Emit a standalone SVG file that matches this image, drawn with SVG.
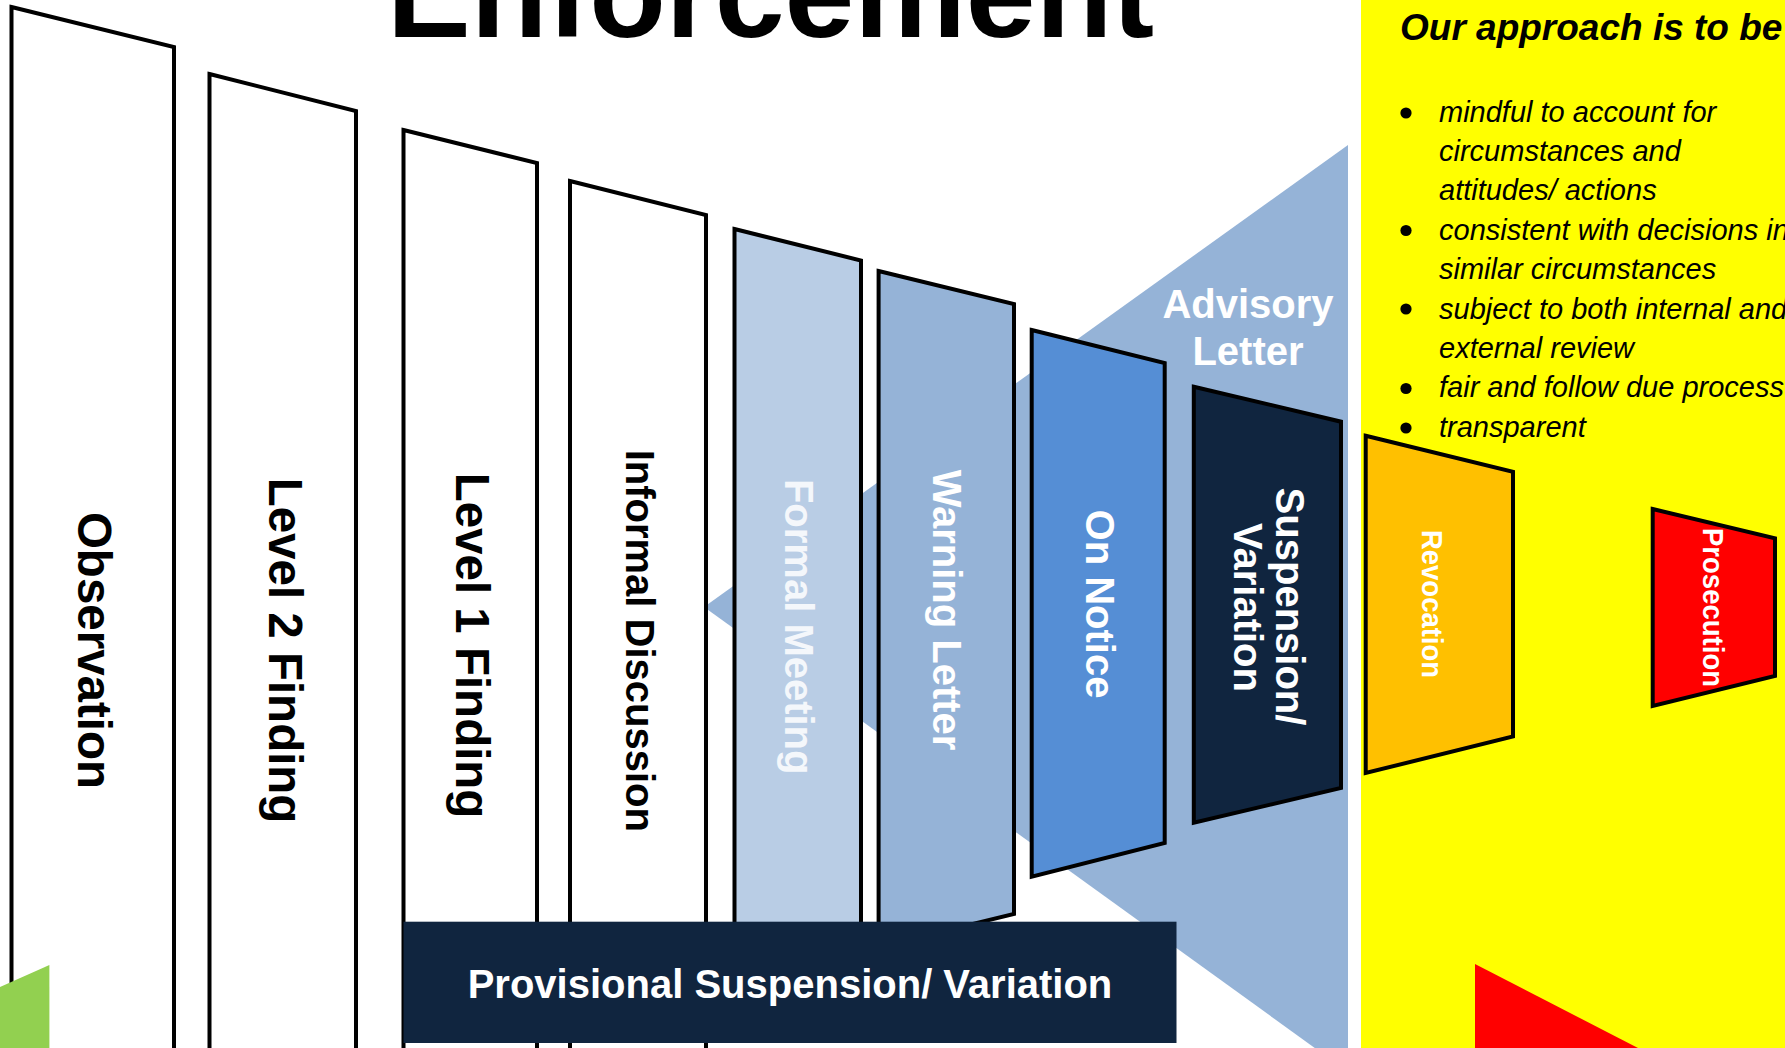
<svg xmlns="http://www.w3.org/2000/svg" width="1785" height="1048" viewBox="0 0 1785 1048">
<style>
.t{font-family:"Liberation Sans",Arial,sans-serif;}
.b{font-weight:bold;}
.blk{fill:#000;}
.wht{fill:#fff;}
.stage{stroke:#000;stroke-width:4;stroke-linejoin:miter;}
.bul{font-style:italic;font-size:29px;}
</style>
<rect x="0" y="0" width="1785" height="1048" fill="#fff"/>
<g id="panel">
<rect x="1361" y="0" width="424" height="1048" fill="#FFFF00"/>
</g>
<g id="advisory">
<polygon points="704,607 1348,145 1348,1072" fill="#95B3D7"/>
<text class="t b wht" font-size="40" text-anchor="middle" x="1248" y="318">Advisory</text>
<text class="t b wht" font-size="40" text-anchor="middle" x="1248" y="365">Letter</text>
</g>
<g id="title">
<text class="t b blk" font-size="125.5" x="387" y="36.5">Enforcement</text>
</g>
<g id="observation">
<polygon class="stage" points="11.5,7 174,47 174,1062 11.5,1062" fill="#fff"/>
<text class="t b blk" font-size="47.5" text-anchor="middle" transform="translate(94.5,650.5) rotate(90)" x="0" y="17">Observation</text>
</g>
<g id="level2">
<polygon class="stage" points="209.5,74 356,111 356,1062 209.5,1062" fill="#fff"/>
<text class="t b blk" font-size="47.5" text-anchor="middle" transform="translate(285.8,650.5) rotate(90)" x="0" y="17">Level 2 Finding</text>
</g>
<g id="level1">
<polygon class="stage" points="403.5,130 537,163 537,1062 403.5,1062" fill="#fff"/>
<text class="t b blk" font-size="47.5" text-anchor="middle" transform="translate(472.8,645.5) rotate(90)" x="0" y="17">Level 1 Finding</text>
</g>
<g id="informal">
<polygon class="stage" points="570,181 706,215 706,1062 570,1062" fill="#fff"/>
<text class="t b blk" font-size="40" text-anchor="middle" transform="translate(640.8,640.8) rotate(90)" x="0" y="14.3">Informal Discussion</text>
</g>
<g id="formal">
<polygon class="stage" points="734.5,229 861,260.5 861,960 734.5,990" fill="#B9CDE5"/>
<text class="t b" fill="#F4F7FB" font-size="40" text-anchor="middle" transform="translate(799.5,626.7) rotate(90)" x="0" y="14.3">Formal Meeting</text>
</g>
<g id="warning">
<polygon class="stage" points="878.6,271 1014,304 1014,914 878.6,947" fill="#95B3D7"/>
<text class="t b wht" font-size="40" text-anchor="middle" transform="translate(947.5,610) rotate(90)" x="0" y="14.3">Warning Letter</text>
</g>
<g id="onnotice">
<polygon class="stage" points="1031.7,330 1164.7,363 1164.7,843 1031.7,876.7" fill="#558ED5"/>
<text class="t b wht" font-size="40" text-anchor="middle" transform="translate(1100,604) rotate(90)" x="0" y="14.3">On Notice</text>
</g>
<g id="suspension">
<polygon class="stage" points="1193.8,386.7 1341,421.7 1341,788 1193.8,822.7" fill="#10253F"/>
<text class="t b wht" font-size="40" text-anchor="middle" transform="translate(1290.8,606.5) rotate(90)" x="0" y="14.3">Suspension/</text>
<text class="t b wht" font-size="40" text-anchor="middle" transform="translate(1248,607.5) rotate(90)" x="0" y="14.3">Variation</text>
</g>
<g id="revocation">
<polygon class="stage" points="1365.7,435.7 1513,471.7 1513,736.5 1365.7,773" fill="#FFC000"/>
<text class="t b wht" font-size="30" text-anchor="middle" textLength="148" lengthAdjust="spacingAndGlyphs" transform="translate(1432.5,604) rotate(90)" x="0" y="10.7">Revocation</text>
</g>
<g id="prosecution">
<polygon class="stage" points="1652.7,509 1775,538.3 1775,676 1652.7,706" fill="#FF0000"/>
<text class="t b wht" font-size="30" text-anchor="middle" textLength="159" lengthAdjust="spacingAndGlyphs" transform="translate(1714,607.5) rotate(90)" x="0" y="10.7">Prosecution</text>
</g>
<g id="provisional">
<rect x="403.5" y="921.7" width="773" height="121.3" fill="#10253F"/>
<text class="t b wht" font-size="40" text-anchor="middle" x="790" y="998">Provisional Suspension/ Variation</text>
</g>
<g id="green">
<polygon points="0,987 49.4,965 49.4,1048 0,1048" fill="#92D050"/>
</g>
<g id="redtriangle">
<polygon points="1475,964 1638,1048 1475,1048" fill="#FF0000"/>
</g>
<g id="approach">
<text class="t b blk" font-size="37" font-style="italic" x="1400" y="39.5">Our approach is to be</text>
<g class="blk">
<circle cx="1406" cy="113" r="5.6"/>
<circle cx="1406" cy="230.5" r="5.6"/>
<circle cx="1406" cy="309" r="5.6"/>
<circle cx="1406" cy="388.5" r="5.6"/>
<circle cx="1406" cy="428" r="5.6"/>
</g>
<text class="t bul blk" x="1439" y="121.7">mindful to account for</text>
<text class="t bul blk" x="1439" y="161">circumstances and</text>
<text class="t bul blk" x="1439" y="200.4">attitudes/ actions</text>
<text class="t bul blk" x="1439" y="239.8">consistent with decisions in</text>
<text class="t bul blk" x="1439" y="279.2">similar circumstances</text>
<text class="t bul blk" x="1439" y="318.6">subject to both internal and</text>
<text class="t bul blk" x="1439" y="358">external review</text>
<text class="t bul blk" x="1439" y="397.4">fair and follow due process</text>
<text class="t bul blk" x="1439" y="436.8">transparent</text>
</g>
</svg>
